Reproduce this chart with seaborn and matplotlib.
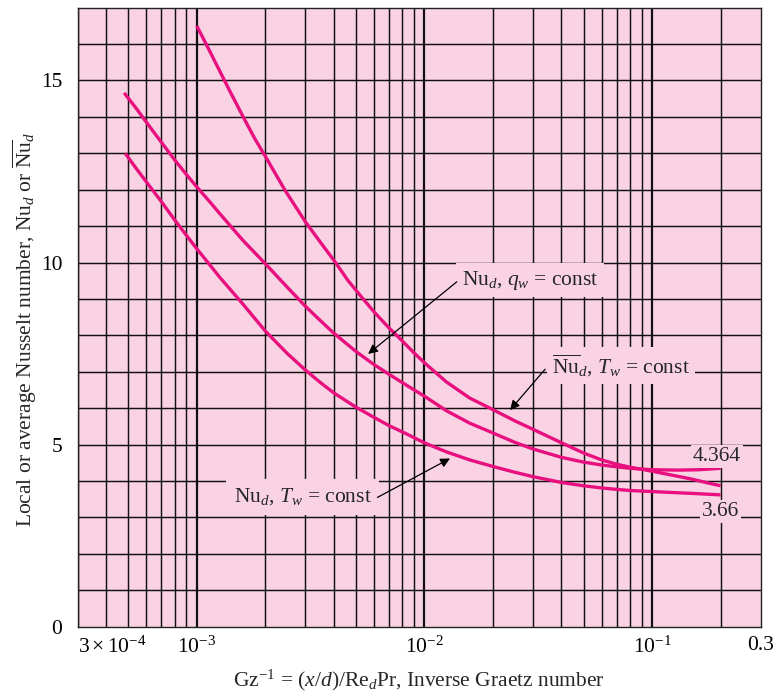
import numpy as np
import pandas as pd
import matplotlib
matplotlib.use("Agg")
import matplotlib.pyplot as plt
from matplotlib.ticker import NullLocator
import seaborn as sns

# ---------------- data ----------------
# Average Nusselt number, T_w = const (top curve at left)
gz_avg_tw = [1.0e-3, 1.1e-3, 1.2e-3, 1.3e-3, 1.4e-3, 1.6e-3, 1.8e-3, 2.0e-3,
             2.45e-3, 3.0e-3, 3.5e-3, 4.07e-3, 4.6e-3, 5.3e-3, 6.0e-3, 7.0e-3,
             7.7e-3, 9.0e-3, 1.02e-2, 1.25e-2, 1.58e-2, 2.0e-2, 2.5e-2, 3.0e-2,
             4.0e-2, 5.0e-2, 6.0e-2, 7.0e-2, 8.0e-2, 0.1, 0.125, 0.15, 0.175, 0.2]
nu_avg_tw = [16.5, 16.0, 15.53, 15.1, 14.7, 14.0, 13.4, 12.92,
             11.97, 11.12, 10.55, 10.0, 9.52, 9.05, 8.65, 8.2,
             7.95, 7.52, 7.2, 6.72, 6.28, 5.96, 5.65, 5.42,
             5.05, 4.77, 4.58, 4.46, 4.38, 4.27, 4.15, 4.05, 3.95, 3.87]

# Local Nusselt number, q_w = const
gz_loc_qw = [4.8e-4, 5.4e-4, 6e-4, 7e-4, 8e-4, 9e-4, 1e-3, 1.13e-3, 1.26e-3,
             1.6e-3, 2e-3, 2.5e-3, 3e-3, 3.5e-3, 4e-3, 5e-3, 6e-3, 7e-3,
             8.5e-3, 1e-2, 1.25e-2, 1.58e-2, 2e-2, 2.5e-2, 3e-2, 4e-2, 5e-2,
             6e-2, 7e-2, 8e-2, 0.1, 0.13, 0.16, 0.2]
nu_loc_qw = [14.66, 14.25, 13.86, 13.3, 12.82, 12.42, 12.08, 11.7, 11.35,
             10.6, 9.97, 9.32, 8.8, 8.4, 8.06, 7.56, 7.2, 6.93,
             6.6, 6.33, 5.93, 5.59, 5.32, 5.06, 4.88, 4.65, 4.52,
             4.44, 4.39, 4.35, 4.31, 4.3, 4.31, 4.35]

# Local Nusselt number, T_w = const
gz_loc_tw = [4.85e-4, 5.4e-4, 6e-4, 7e-4, 8e-4, 9e-4, 1e-3, 1.13e-3, 1.26e-3,
             1.6e-3, 2e-3, 2.5e-3, 3e-3, 3.5e-3, 4e-3, 5e-3, 6e-3, 7e-3,
             8.5e-3, 1e-2, 1.25e-2, 1.58e-2, 2e-2, 2.5e-2, 3e-2, 4e-2, 5e-2,
             6e-2, 7e-2, 8e-2, 0.1, 0.15, 0.2]
nu_loc_tw = [13.0, 12.6, 12.22, 11.67, 11.17, 10.75, 10.38, 9.97, 9.6,
             8.85, 8.12, 7.5, 7.05, 6.7, 6.42, 6.03, 5.75, 5.52,
             5.27, 5.05, 4.8, 4.58, 4.40, 4.24, 4.12, 3.96, 3.87,
             3.81, 3.77, 3.74, 3.71, 3.66, 3.62]

x_tick_vals = [3e-4, 1e-3, 1e-2, 1e-1, 0.3]
x_tick_labels = [r"$3\times10^{-4}$", r"$10^{-3}$", r"$10^{-2}$", r"$10^{-1}$", "0.3"]
y_tick_vals = [0, 5, 10, 15]
y_tick_labels = ["0", "5", "10", "15"]

# ---------------- style ----------------
sns.set_theme(style="white")
plt.rcParams.update({
    "font.family": ["Liberation Serif", "DejaVu Serif"],
    "mathtext.fontset": "custom",
    "mathtext.rm": "Liberation Serif",
    "mathtext.it": "Liberation Serif:italic",
    "mathtext.bf": "Liberation Serif:bold",
})

PINK = "#F9D3E3"
MAGENTA = "#E8107F"
FS = 15.5

fig = plt.figure(figsize=(7.76, 6.96), dpi=100)
ax = fig.add_axes([0.1001, 0.0996, 0.8802, 0.8894])
ax.set_facecolor(PINK)

for gx, ny in [(gz_avg_tw, nu_avg_tw), (gz_loc_qw, nu_loc_qw), (gz_loc_tw, nu_loc_tw)]:
    df = pd.DataFrame({"gz": gx, "nu": ny})
    sns.lineplot(data=df, x="gz", y="nu", ax=ax, color=MAGENTA, lw=2.4,
                 estimator=None, sort=True, zorder=3, solid_capstyle="butt",
                 solid_joinstyle="round")

ax.set_xscale("log")
ax.set_xlim(3e-4, 0.3)
ax.set_ylim(0, 17)

# grid
for yv in range(1, 17):
    ax.axhline(yv, color="#111111", lw=1.05, zorder=1)
for e in (-4, -3, -2, -1):
    for k in range(1, 10):
        v = k * 10.0 ** e
        if 3e-4 < v < 0.3:
            ax.axvline(v, color="#111111", lw=1.6 if k == 1 else 1.05, zorder=1)

ax.set_xticks(x_tick_vals)
ax.set_xticklabels(x_tick_labels)
ax.xaxis.set_minor_locator(NullLocator())
ax.set_yticks(y_tick_vals)
ax.set_yticklabels(y_tick_labels)
ax.tick_params(axis="both", length=0, labelsize=FS, colors="black")
ax.tick_params(axis="x", pad=7)
ax.tick_params(axis="y", pad=11)
ax.get_xticklabels()[0].set_horizontalalignment("left")

for s in ax.spines.values():
    s.set_color("#222222")
    s.set_linewidth(1.0)
    s.set_visible(True)
    s.set_zorder(5)

ax.set_xlabel(r"Gz$^{-1}$ = ($x$/$d$)/Re$_d$Pr, Inverse Graetz number", fontsize=FS, labelpad=7)
ax.set_ylabel(r"Local or average Nusselt number, Nu$_d$ or $\overline{\mathrm{Nu}}_d$",
              fontsize=FS)
ax.yaxis.set_label_coords(-0.057, 0.48)

box = dict(boxstyle="square,pad=0.25", fc=PINK, ec="none")
arrow = dict(arrowstyle="-|>", color="black", lw=0.9, mutation_scale=14, shrinkA=0, shrinkB=0)

ax.text(0.01458, 9.52, r"Nu$_d$, $q_w$ = const", fontsize=FS, ha="left", va="center",
        bbox=box, zorder=4)
ax.annotate("", xy=(0.00566, 7.49), xytext=(0.01387, 9.47), arrowprops=arrow, zorder=6)

ax.text(0.0363, 7.16, r"$\overline{\mathrm{Nu}}_d$, $T_w$ = const", fontsize=FS, ha="left",
        va="center", bbox=box, zorder=4)
ax.annotate("", xy=(0.02378, 5.95), xytext=(0.0339, 7.07), arrowprops=arrow, zorder=6)

ax.text(0.00586, 3.57, r"Nu$_d$, $T_w$ = const", fontsize=FS, ha="right", va="center",
        bbox=dict(boxstyle="square,pad=0.35", fc=PINK, ec="none"), zorder=4)
ax.annotate("", xy=(0.01295, 4.62), xytext=(0.00622, 3.55), arrowprops=arrow, zorder=6)

ax.text(0.1929, 4.67, "4.364", fontsize=FS, ha="center", va="center",
        bbox=dict(boxstyle="square,pad=0.1", fc=PINK, ec="none"), zorder=4)
ax.text(0.2, 3.16, "3.66", fontsize=FS, ha="center", va="center",
        bbox=dict(boxstyle="square,pad=0.1", fc=PINK, ec="none"), zorder=4)

fig.savefig("out.png", dpi=100)
